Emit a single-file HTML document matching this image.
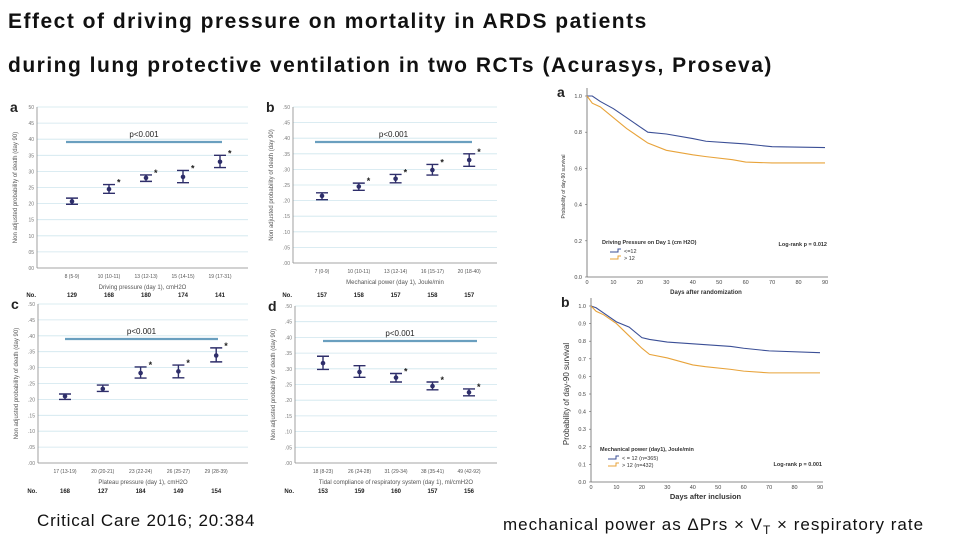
<!DOCTYPE html>
<html><head><meta charset="utf-8"><style>
html,body{margin:0;padding:0;background:#fff;width:960px;height:540px;overflow:hidden}
svg{display:block;font-family:"Liberation Sans",sans-serif}
.t{font-family:"Liberation Sans","Noto Sans CJK KR",sans-serif}
</style></head><body>
<svg id="s" width="960" height="540">
<text x="8" y="28" font-size="21" letter-spacing="1.5" font-weight="bold" fill="#111" class="t">Effect of driving pressure on mortality in ARDS patients</text>
<text x="8" y="72" font-size="21" letter-spacing="1.5" font-weight="bold" fill="#111" class="t">during lung protective ventilation in two RCTs (Acurasys, Proseva)</text>
<text x="37" y="526" font-size="17" letter-spacing="0.8" fill="#111" class="t">Critical Care 2016; 20:384</text>
<text x="503" y="530" font-size="17" letter-spacing="1" fill="#111" class="t">mechanical power as ΔPrs × V<tspan font-size="12" dy="4">T</tspan><tspan dy="-4"> × respiratory rate</tspan></text>
</svg>
<script>
const NS="http://www.w3.org/2000/svg";
const svg=document.getElementById('s');
function mk(tag,attrs,parent,txt){const e=document.createElementNS(NS,tag);for(const k in attrs)e.setAttribute(k,attrs[k]);if(txt!==undefined)e.textContent=txt;(parent||svg).appendChild(e);return e;}

const catsA=["8 (5-9)","10 (10-11)","13 (12-13)","15 (14-15)","19 (17-31)"];
const meanA=[20.7,24.5,28.0,28.3,33.0];
const hiA=[21.7,25.9,28.9,30.3,35.0];
const loA=[19.8,23.2,26.9,26.5,31.2];
const nA=["129","168","180","174","141"];
const ticksA=["00","05","10","15","20","25","30","35","40","45","50"];

const catsB=["7 (0-9)","10 (10-11)","13 (12-14)","16 (15-17)","20 (18-40)"];
const meanB=[0.215,0.245,0.27,0.298,0.33];
const hiB=[0.225,0.256,0.284,0.316,0.35];
const loB=[0.203,0.233,0.257,0.282,0.31];
const nB=["157","158","157","158","157"];
const ticksB=[".00",".05",".10",".15",".20",".25",".30",".35",".40",".45",".50"];

const catsC=["17 (13-19)","20 (20-21)","23 (22-24)","26 (25-27)","29 (28-39)"];
const meanC=[0.21,0.233,0.283,0.288,0.338];
const hiC=[0.217,0.245,0.302,0.308,0.362];
const loC=[0.2,0.225,0.267,0.268,0.318];
const nC=["168","127","184","149","154"];

const catsD=["18 (8-23)","26 (24-28)","31 (29-34)","38 (35-41)","49 (42-92)"];
const meanD=[0.318,0.29,0.272,0.245,0.225];
const hiD=[0.34,0.31,0.285,0.258,0.236];
const loD=[0.298,0.273,0.258,0.233,0.214];
const nD=["153","159","160","157","156"];

const kmDays=[0,2,5,10,15,20,23,30,40,45,55,60,70,90];
const kmA_low=[1,1,0.97,0.93,0.88,0.83,0.80,0.79,0.765,0.75,0.74,0.735,0.72,0.715];
const kmA_high=[1,0.96,0.94,0.88,0.82,0.77,0.74,0.70,0.675,0.665,0.648,0.635,0.63,0.63];
const kmB_low=[1,0.99,0.96,0.91,0.88,0.82,0.81,0.795,0.785,0.78,0.77,0.76,0.745,0.735];
const kmB_high=[1,0.97,0.95,0.90,0.83,0.76,0.725,0.705,0.665,0.655,0.64,0.63,0.62,0.62];
const kmXTicks=[0,10,20,30,40,50,60,70,80,90];
const kmYTicksA=[0,0.2,0.4,0.6,0.8,1.0];
const kmYTicksB=[0,0.1,0.2,0.3,0.4,0.5,0.6,0.7,0.8,0.9,1.0];

function panel(o){
  const g=mk('g',{});
  const y=v=>o.y0-(v-o.vmin)/(o.vmax-o.vmin)*(o.y0-o.y1);
  const x=i=>o.xs0+i*o.dx;
  mk('text',{x:o.x0-27,y:o.y1+5,'font-size':14,'font-weight':'bold',fill:'#222'},g,o.id);
  o.ticks.forEach((t,i)=>{const v=o.vmin+i*(o.vmax-o.vmin)/(o.ticks.length-1);const yy=y(v);
    if(i>0){const gl=mk('line',{x1:o.x0,x2:o.x1,y1:yy,y2:yy,stroke:'#cfe6ee','stroke-width':0.8},g);}
    const tl=mk('text',{x:o.x0-3,y:yy+2,'font-size':5,fill:'#777','text-anchor':'end'},g,t);
    });
  mk('line',{x1:o.x0,x2:o.x0,y1:o.y1,y2:o.y0,stroke:'#888','stroke-width':0.8},g);
  mk('line',{x1:o.x0,x2:o.x1,y1:o.y0,y2:o.y0,stroke:'#888','stroke-width':0.8},g);
  const yt=mk('text',{x:0,y:0,'font-size':6,fill:'#555','text-anchor':'middle',transform:`translate(${o.x0-20},${(o.y0+o.y1)/2}) rotate(-90)`},g,o.ylab);
  
  const pl=mk('line',{x1:o.px1,x2:o.px2,y1:o.py,y2:o.py,stroke:'#6a9fbf','stroke-width':2.2},g);
  
  mk('text',{x:(o.px1+o.px2)/2,y:o.py-5,'font-size':8,fill:'#222','text-anchor':'middle'},g,'p<0.001');
  o.cats.forEach((c,i)=>{const xx=x(i);
    const cl=mk('text',{x:xx,y:o.y0+10,'font-size':5,fill:'#555','text-anchor':'middle'},g,c);
    
    const nl=mk('text',{x:xx,y:o.ny,'font-size':6,'font-weight':'bold',fill:'#222','text-anchor':'middle'},g,o.n[i]);
    
    const eb=mk('path',{d:`M${xx-6},${y(o.hi[i])}H${xx+6}M${xx},${y(o.hi[i])}V${y(o.lo[i])}M${xx-6},${y(o.lo[i])}H${xx+6}`,stroke:'#2e2e6a','stroke-width':1.4,fill:'none'},g);
    
    const pt=mk('circle',{cx:xx,cy:y(o.mean[i]),r:2.3,fill:'#2e2e6a'},g);
    
    if(i>=o.starFrom){const st=mk('text',{x:xx+8,y:y(o.hi[i])+1,'font-size':9,'font-weight':'bold',fill:'#222'},g,'*');
      }
  });
  mk('text',{x:(o.x0+o.x1)/2,y:o.y0+21,'font-size':6,fill:'#555','text-anchor':'middle'},g,o.xlab);
  mk('text',{x:o.x0-1,y:o.ny,'font-size':6,'font-weight':'bold',fill:'#222','text-anchor':'end'},g,'No.');
}
panel({id:'a',starFrom:1,cats:catsA,mean:meanA,hi:hiA,lo:loA,n:nA,ticks:ticksA,vmin:0,vmax:50,x0:37,x1:248,y0:268,y1:107,xs0:72,dx:37,px1:66,px2:222,py:142,ny:297,ylab:'Non adjusted probability of death (day 90)',xlab:'Driving pressure (day 1), cmH2O'});
panel({id:'b',starFrom:1,cats:catsB,mean:meanB,hi:hiB,lo:loB,n:nB,ticks:ticksB,vmin:0,vmax:0.5,x0:293,x1:497,y0:263,y1:107,xs0:322,dx:36.8,px1:315,px2:472,py:142,ny:297,ylab:'Non adjusted probability of death (day 90)',xlab:'Mechanical power (day 1), Joule/min'});
panel({id:'c',starFrom:2,cats:catsC,mean:meanC,hi:hiC,lo:loC,n:nC,ticks:ticksB,vmin:0,vmax:0.5,x0:38,x1:248,y0:463,y1:304,xs0:65,dx:37.8,px1:65,px2:218,py:339,ny:493,ylab:'Non adjusted probability of death (day 90)',xlab:'Plateau pressure (day 1), cmH2O'});
panel({id:'d',starFrom:2,cats:catsD,mean:meanD,hi:hiD,lo:loD,n:nD,ticks:ticksB,vmin:0,vmax:0.5,x0:295,x1:497,y0:463,y1:306,xs0:323,dx:36.5,px1:323,px2:477,py:341,ny:493,ylab:'Non adjusted probability of death (day 90)',xlab:'Tidal compliance of respiratory system (day 1), ml/cmH2O'});

function km(o){
  const g=mk('g',{});
  const X=d=>o.x0+d/90*(o.x1-o.x0);
  const Y=v=>o.y0-v*(o.y0-o.y1);
  mk('text',{x:o.x0-30,y:o.y1+1,'font-size':14,'font-weight':'bold',fill:'#222'},g,o.id);
  mk('line',{x1:o.x0,x2:o.x0,y1:o.y1-8,y2:o.y0,stroke:'#666','stroke-width':0.8},g);
  mk('line',{x1:o.x0,x2:o.x1+3,y1:o.y0,y2:o.y0,stroke:'#666','stroke-width':0.8},g);
  o.yt.forEach(v=>{const t=mk('text',{x:o.x0-5,y:Y(v)+2,'font-size':5.5,fill:'#444','text-anchor':'end'},g,v.toFixed(1));
    
    mk('line',{x1:o.x0-2,x2:o.x0,y1:Y(v),y2:Y(v),stroke:'#666','stroke-width':0.6},g);});
  kmXTicks.forEach(d=>{const t=mk('text',{x:X(d),y:o.y0+7,'font-size':5.5,fill:'#444','text-anchor':'middle'},g,d);
    });
  const line=(arr)=>arr.map((v,i)=>(i?'L':'M')+X(kmDays[i])+','+Y(v)).join('');
  const l1=mk('path',{d:line(o.low),stroke:'#3b4f96',fill:'none','stroke-width':1.1},g);
  
  const l2=mk('path',{d:line(o.high),stroke:'#e8a33a',fill:'none','stroke-width':1.1},g);
  
  const yl=mk('text',{x:0,y:0,'font-size':o.ylfs,fill:'#333','text-anchor':'middle',transform:`translate(${o.x0-22},${(o.y0+o.y1)/2}) rotate(-90)`},g,'Probability of day-90 survival');
  
  const xl=mk('text',{x:(o.x0+o.x1)/2,y:o.y0+17,'font-size':o.xlfs,'font-weight':'bold',fill:'#333','text-anchor':'middle'},g,o.xlab);
  
  const lg=mk('g',{},g);
  mk('text',{x:o.lx,y:o.ly,'font-size':5.5,'font-weight':'bold',fill:'#333'},lg,o.legT);
  mk('path',{d:`M${o.lx+8},${o.ly+8}h8v-3h3`,stroke:'#3b4f96',fill:'none','stroke-width':1},lg);
  mk('text',{x:o.lx+22,y:o.ly+9,'font-size':5.5,fill:'#333'},lg,o.leg1);
  mk('path',{d:`M${o.lx+8},${o.ly+15}h8v-3h3`,stroke:'#e8a33a',fill:'none','stroke-width':1},lg);
  mk('text',{x:o.lx+22,y:o.ly+16,'font-size':5.5,fill:'#333'},lg,o.leg2);
  mk('text',{x:o.x1+2,y:o.lry,'font-size':5.5,'font-weight':'bold',fill:'#333','text-anchor':'end'},g,o.lr);
}
km({id:'a',low:kmA_low,high:kmA_high,yt:kmYTicksA,x0:587,x1:825,y0:277,y1:96,ylfs:5,xlfs:6,xlab:'Days after randomization',lx:602,ly:244,legT:'Driving Pressure on Day 1 (cm H2O)',leg1:'<=12',leg2:'> 12',lr:'Log-rank p = 0.012',lry:246});
km({id:'b',low:kmB_low,high:kmB_high,yt:kmYTicksB,x0:591,x1:820,y0:482,y1:306,ylfs:8,xlfs:7.5,xlab:'Days after inclusion',lx:600,ly:451,legT:'Mechanical power (day1), Joule/min',leg1:'< = 12 (n=365)',leg2:'> 12 (n=432)',lr:'Log-rank p = 0.001',lry:466});
</script>
</body></html>
